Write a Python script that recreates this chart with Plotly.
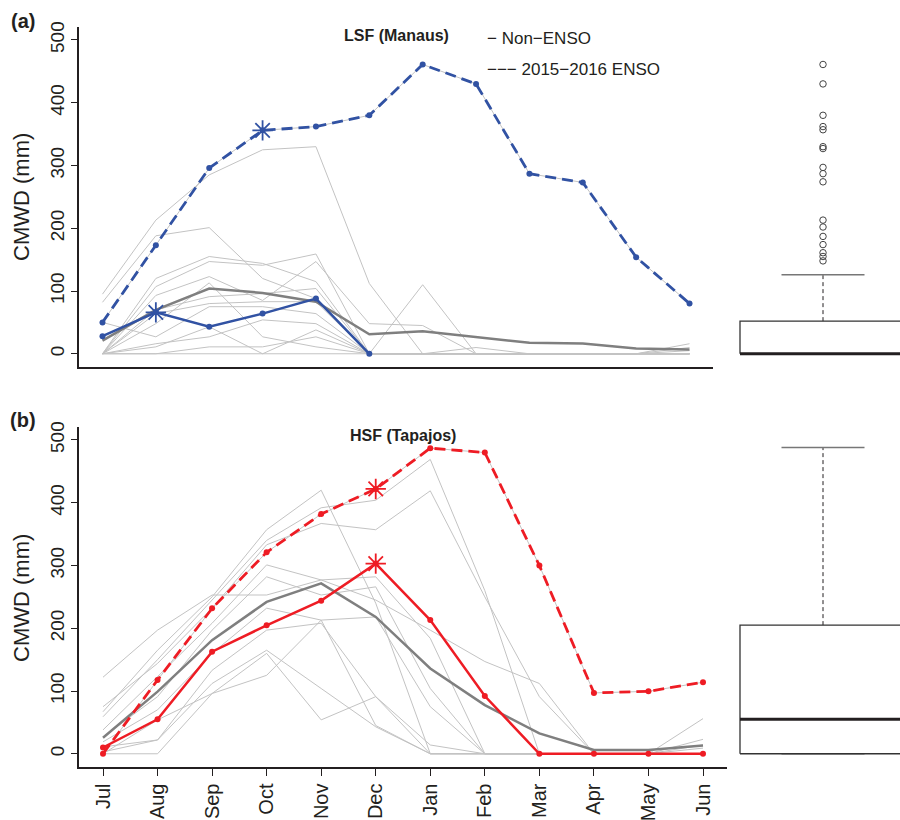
import plotly.graph_objects as go

# ---------------- data ----------------
months = ["Jul", "Aug", "Sep", "Oct", "Nov", "Dec", "Jan", "Feb", "Mar", "Apr", "May", "Jun"]
yticks = [0, 100, 200, 300, 400, 500]

# (a) LSF (Manaus) -- individual years (CMWD, mm)
lsf_years = [
    [95, 213, 285, 325, 330, 112, 0, 0, 0, 0, 0, 0],
    [82, 188, 201, 120, 88, 0, 0, 0, 0, 0, 0, 0],
    [0, 120, 155, 144, 115, 0, 0, 0, 0, 0, 0, 0],
    [0, 107, 147, 141, 159, 0, 110, 0, 0, 0, 0, 0],
    [0, 93, 123, 85, 147, 48, 45, 0, 0, 0, 0, 0],
    [0, 70, 91, 96, 104, 0, 0, 0, 0, 0, 0, 0],
    [0, 64, 80, 83, 83, 0, 0, 10, 0, 0, 0, 0],
    [50, 27, 75, 75, 64, 0, 0, 0, 0, 0, 0, 0],
    [0, 48, 113, 27, 11, 0, 0, 0, 0, 0, 0, 16],
    [0, 16, 27, 54, 48, 0, 0, 0, 0, 0, 0, 10],
    [0, 11, 43, 0, 38, 0, 0, 0, 0, 0, 0, 5],
    [0, 0, 11, 11, 27, 0, 0, 0, 0, 0, 0, 0],
    [0, 0, 0, 0, 0, 0, 0, 0, 0, 0, 0, 0],
]
lsf_mean = [21, 70, 104, 97, 83, 31, 36, 27, 17.5, 16.5, 8.5, 7]
lsf_enso = [50, 173, 296, 356, 362, 380, 461, 430, 287, 273, 154, 80]
lsf_nonenso = [28, 66, 43, 64, 88, 0, None, None, None, None, None, None]
lsf_enso_star = 3      # Oct
lsf_nonenso_star = 1   # Aug

# (b) HSF (Tapajos) -- individual years (CMWD, mm)
hsf_years = [
    [122, 197, 253, 253, 277, 245, 197, 147, 112, 0, 0, 0],
    [67, 165, 250, 357, 420, 240, 0, 0, 0, 0, 0, 0],
    [59, 150, 245, 340, 392, 404, 469, 260, 0, 0, 0, 0],
    [75, 144, 232, 333, 367, 357, 419, 250, 91, 0, 0, 0],
    [38, 123, 208, 301, 277, 282, 184, 0, 0, 0, 0, 0],
    [27, 91, 197, 282, 253, 266, 104, 0, 0, 0, 0, 0],
    [19, 70, 160, 232, 213, 218, 75, 0, 0, 0, 0, 23],
    [11, 22, 133, 197, 208, 91, 14, 0, 0, 0, 0, 56],
    [3, 22, 112, 165, 104, 43, 0, 0, 0, 0, 0, 9],
    [0, 0, 96, 160, 54, 91, 0, 0, 0, 0, 0, 14],
    [0, 54, 96, 125, 213, 45, 0, 0, 0, 0, 0, 0],
]
hsf_mean = [25.5, 99, 181, 242, 271.6, 218, 136, 77.6, 32.5, 6, 6, 13]
hsf_enso = [0, 117.5, 231.7, 321, 382, 422, 487, 480, 300, 97, 99.5, 114]
hsf_nonenso = [10, 55, 162.6, 204.6, 244, 303, 213, 92, 0, 0, 0, 0]
hsf_enso_star = 5      # Dec
hsf_nonenso_star = 5   # Dec

# boxplot summaries of all monthly values
lsf_box = dict(lower=0, q1=0, median=0, q3=52, upper=126)
lsf_outliers = [461, 430, 380, 362, 357, 330, 327, 297, 287, 274,
                213, 202, 187, 174, 161, 155, 148]
hsf_box = dict(lower=0, q1=0, median=55, q3=205, upper=488)
hsf_outliers = []

# ---------------- styling ----------------
W, H = 900, 820
FONT = "Liberation Sans, Arial, sans-serif"
INK = "#231f20"
BLUE = "#3152a3"
RED = "#ee1c24"
MEAN_GRAY = "#7f7f7f"
LIGHT_GRAY = "#c3c3c3"

xpos = list(range(1, 13))


def px(x):
    return x / W


def py(y):
    return 1 - y / H


fig = go.Figure()


def add_panel(xa, ya, years, mean, enso, nonenso, enso_star, non_star, color):
    for yr in years:
        fig.add_trace(go.Scatter(x=xpos, y=yr, mode="lines", xaxis=xa, yaxis=ya,
                                 line=dict(color=LIGHT_GRAY, width=1), hoverinfo="skip"))
    # the ENSO year also appears among the grey yearly lines
    fig.add_trace(go.Scatter(x=xpos, y=enso, mode="lines", xaxis=xa, yaxis=ya,
                             line=dict(color=LIGHT_GRAY, width=1), hoverinfo="skip"))
    fig.add_trace(go.Scatter(x=xpos, y=mean, mode="lines", xaxis=xa, yaxis=ya,
                             line=dict(color=MEAN_GRAY, width=2.5)))
    fig.add_trace(go.Scatter(x=xpos, y=nonenso, mode="lines+markers", xaxis=xa, yaxis=ya,
                             line=dict(color=color, width=2.5),
                             marker=dict(color=color, size=6), connectgaps=False))
    fig.add_trace(go.Scatter(x=xpos, y=enso, mode="lines+markers", xaxis=xa, yaxis=ya,
                             line=dict(color=color, width=2.8, dash="11px,6px"),
                             marker=dict(color=color, size=6)))
    fig.add_trace(go.Scatter(x=[xpos[enso_star], xpos[non_star]],
                             y=[enso[enso_star], nonenso[non_star]],
                             mode="markers", xaxis=xa, yaxis=ya,
                             marker=dict(symbol="asterisk-open", size=17, color=color,
                                         line=dict(color=color, width=1.8))))


def add_box(xa, ya, stats, outliers):
    hw = 1.0      # half width of the box
    cw = 0.5      # half width of whisker caps
    box_x = [-hw, hw, hw, -hw, -hw]
    box_y = [stats["q1"], stats["q1"], stats["q3"], stats["q3"], stats["q1"]]
    fig.add_trace(go.Scatter(x=[0, 0], y=[stats["q3"], stats["upper"]], mode="lines",
                             xaxis=xa, yaxis=ya, line=dict(color=INK, width=1, dash="4px,3px")))
    fig.add_trace(go.Scatter(x=[0, 0], y=[stats["lower"], stats["q1"]], mode="lines",
                             xaxis=xa, yaxis=ya, line=dict(color=INK, width=1, dash="4px,3px")))
    for v in (stats["upper"], stats["lower"]):
        fig.add_trace(go.Scatter(x=[-cw, cw], y=[v, v], mode="lines", xaxis=xa, yaxis=ya,
                                 line=dict(color="#777777", width=1.6)))
    fig.add_trace(go.Scatter(x=box_x, y=box_y, mode="lines", xaxis=xa, yaxis=ya,
                             line=dict(color="#333333", width=1.3)))
    fig.add_trace(go.Scatter(x=[-hw, hw], y=[stats["median"], stats["median"]], mode="lines",
                             xaxis=xa, yaxis=ya, line=dict(color=INK, width=3)))
    if outliers:
        fig.add_trace(go.Scatter(x=[0] * len(outliers), y=outliers, mode="markers",
                                 xaxis=xa, yaxis=ya,
                                 marker=dict(symbol="circle-open", size=6.5, color="#444444",
                                             line=dict(color="#444444", width=1))))


add_panel("x", "y", lsf_years, lsf_mean, lsf_enso, lsf_nonenso,
          lsf_enso_star, lsf_nonenso_star, BLUE)
add_panel("x2", "y2", hsf_years, hsf_mean, hsf_enso, hsf_nonenso,
          hsf_enso_star, hsf_nonenso_star, RED)
add_box("x3", "y3", lsf_box, lsf_outliers)
add_box("x4", "y4", hsf_box, hsf_outliers)

YR = [-20.6, 520.7]
XR = [0.56, 12.44]
top_dom = [py(366.7), py(27)]
bot_dom = [py(766.7), py(427)]
box_xr = [-103 / 83, 77 / 83]

yaxis_common = dict(range=YR, tickvals=yticks, ticktext=[str(v) for v in yticks],
                    ticks="outside", ticklen=6, tickwidth=1.3, tickcolor=INK,
                    tickangle=-90, tickfont=dict(family=FONT, size=19, color=INK),
                    showline=True, linecolor=INK, linewidth=1.6, showgrid=False,
                    zeroline=False, automargin=False, fixedrange=True)

fig.update_layout(
    width=W, height=H,
    margin=dict(l=0, r=0, t=0, b=0),
    paper_bgcolor="white", plot_bgcolor="white",
    showlegend=False,
    font=dict(family=FONT, color=INK),
    xaxis=dict(domain=[px(79), px(713)], range=XR, anchor="y", showline=True,
               linecolor=INK, linewidth=1.6, ticks="", showticklabels=False,
               showgrid=False, zeroline=False, automargin=False),
    yaxis=dict(domain=top_dom, anchor="x", **yaxis_common),
    xaxis2=dict(domain=[px(79), px(727)], range=XR, anchor="y2", showline=True,
                linecolor=INK, linewidth=1.6, tickvals=xpos, ticktext=months,
                ticks="outside", ticklen=7, tickwidth=1.3, tickcolor=INK,
                tickangle=-90, tickfont=dict(family=FONT, size=20, color=INK),
                showgrid=False, zeroline=False, automargin=False),
    yaxis2=dict(domain=bot_dom, anchor="x2", **yaxis_common),
    xaxis3=dict(domain=[px(720), 1], range=box_xr, anchor="y3", visible=False),
    yaxis3=dict(domain=top_dom, range=YR, anchor="x3", visible=False),
    xaxis4=dict(domain=[px(720), 1], range=box_xr, anchor="y4", visible=False),
    yaxis4=dict(domain=bot_dom, range=YR, anchor="x4", visible=False),
)

annotations = [
    dict(text="<b>(a)</b>", x=px(23), y=py(21), size=20, anchor="center"),
    dict(text="<b>(b)</b>", x=px(23), y=py(420), size=20, anchor="center"),
    dict(text="<b>LSF (Manaus)</b>", x=px(396), y=py(35), size=16, anchor="center"),
    dict(text="<b>HSF (Tapajos)</b>", x=px(403), y=py(435), size=16, anchor="center"),
    dict(text="− Non−ENSO", x=px(485), y=py(38), size=17, anchor="left"),
    dict(text="−−− 2015−2016 ENSO", x=px(485), y=py(70), size=17, anchor="left"),
]
for a in annotations:
    fig.add_annotation(text=a["text"], x=a["x"], y=a["y"], xref="paper", yref="paper",
                       xanchor=a["anchor"], yanchor="middle", showarrow=False,
                       font=dict(family=FONT, size=a["size"], color=INK))

for yc in (197, 598):
    fig.add_annotation(text="CMWD (mm)", x=px(21), y=py(yc), xref="paper", yref="paper",
                       xanchor="center", yanchor="middle", textangle=-90, showarrow=False,
                       font=dict(family=FONT, size=22, color=INK))

fig.write_html("out.html")
